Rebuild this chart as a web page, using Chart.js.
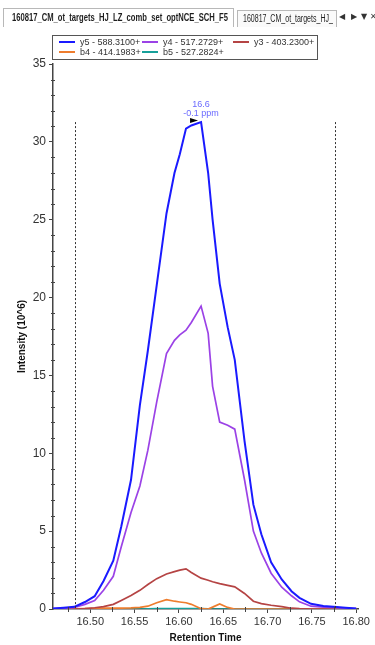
<!DOCTYPE html>
<html lang="en">
<head>
  <meta charset="UTF-8" />
  <meta name="viewport" content="width=device-width, initial-scale=1.0"/>
  <title>Chromatogram - 160817_CM_ot_targets</title>
  <script src="https://cdn.jsdelivr.net/npm/chart.js"></script>
  <style>
    body {
      margin: 0;
      background: #fff;
      font-family: 'Liberation Sans', Arial, sans-serif;
    }
    #wrap {
      position: relative;
      width: 375px;
      height: 645px;
      overflow: hidden;
    }
    #chart { position: absolute; left: 0; top: 0; }
    .tab {
      position: absolute;
      border: 1px solid #b8b8b8;
      border-bottom: none;
      overflow: hidden;
      white-space: nowrap;
      color: #1e1e1e;
    }
    .tab span { display: inline-block; transform-origin: left center; }
    #tab1 { left: 3px; top: 8px; width: 229px; height: 18px; line-height: 18px; font-size: 10px; font-weight: bold; }
    #tab1 span { margin-left: 8px; }
    #tab2 { left: 237px; top: 10px; width: 98px; height: 16px; line-height: 16px; font-size: 10px; background: #fafafa; }
    #tab2 span { margin-left: 5px; }
    .nav { position: absolute; top: 11px; font-size: 8px; line-height: 12px; color: #333; font-family: 'DejaVu Sans', sans-serif; }
    #legend {
      position: absolute;
      left: 52px;
      top: 35px;
      width: 264px;
      height: 23px;
      border: 1px solid #555;
      background: #fff;
      font-size: 9px;
      color: #333;
    }
    .item { position: absolute; height: 10px; line-height: 10px; white-space: nowrap; }
    .item i { display: inline-block; width: 16px; height: 2px; vertical-align: middle; margin-right: 5px; position: relative; top: -1px; }
  </style>
</head>
<body>
  <div id="wrap">
    <canvas id="chart" width="375" height="645"></canvas>
    <div class="tab" id="tab1"><span data-w="216">160817_CM_ot_targets_HJ_LZ_comb_set_optNCE_SCH_F5</span></div>
    <div class="tab" id="tab2"><span data-w="90">160817_CM_ot_targets_HJ_</span></div>
    <div class="nav" style="left:339px">&#9664;</div>
    <div class="nav" style="left:351px">&#9654;</div>
    <div class="nav" style="left:361px">&#9660;</div>
    <div class="nav" style="left:370px">&#10005;</div>
    <div id="legend"></div>
  </div>

  <script>
    // retention times (min) of the sampled points
    const times = [16.458, 16.470, 16.482, 16.494, 16.505, 16.515, 16.526, 16.535, 16.546, 16.556,
                   16.565, 16.575, 16.586, 16.595, 16.601, 16.608, 16.614, 16.625, 16.633, 16.638,
                   16.646, 16.655, 16.663, 16.674, 16.684, 16.693, 16.704, 16.716, 16.727, 16.736,
                   16.749, 16.763, 16.778, 16.788, 16.800];

    // intensities (10^6)
    const y5 = [0.03, 0.08, 0.14, 0.45, 0.82, 1.8, 3.1, 5.3, 8.3, 13.1,
                16.6, 20.8, 25.4, 28.0, 29.2, 30.85, 31.05, 31.27, 28.0, 25.0,
                20.9, 18.1, 16.0, 10.8, 6.7, 4.8, 3.0, 1.9, 1.14, 0.72,
                0.33, 0.2, 0.13, 0.08, 0.03];
    const y4 = [0.02, 0.05, 0.1, 0.3, 0.55, 1.2, 2.1, 4.0, 6.2, 7.9,
                10.2, 13.3, 16.4, 17.25, 17.6, 17.9, 18.4, 19.45, 17.7, 14.3,
                12.0, 11.8, 11.55, 8.3, 5.0, 3.6, 2.3, 1.4, 0.85, 0.46,
                0.18, 0.12, 0.08, 0.05, 0.03];
    const y3 = [0, 0, 0, 0.02, 0.08, 0.15, 0.3, 0.55, 0.87, 1.2,
                1.57, 1.95, 2.25, 2.4, 2.5, 2.58, 2.35, 1.98, 1.85, 1.75,
                1.63, 1.52, 1.42, 1.0, 0.5, 0.35, 0.24, 0.15, 0.05, 0.02,
                0, 0, 0, 0, 0];
    const b4 = [0, 0, 0.01, 0.02, 0.04, 0.05, 0.05, 0.06, 0.07, 0.1,
                0.18, 0.4, 0.6, 0.5, 0.45, 0.4, 0.3, 0.02, 0, 0.12,
                0.33, 0.1, 0, 0, 0, 0, 0, 0, 0, 0,
                0, 0, 0, 0, 0];
    const b5 = [0, 0, 0, 0, 0, 0, 0, 0, 0, 0,
                0.01, 0.02, 0.03, 0.03, 0.03, 0.03, 0.03, 0.02, 0.01, 0,
                0, 0, 0, 0, 0, 0, 0, 0, 0, 0,
                0, 0, 0, 0, 0];

    const seriesNames = ['y5 - 588.3100+', 'y4 - 517.2729+', 'y3 - 403.2300+', 'b4 - 414.1983+', 'b5 - 527.2824+'];
    const seriesColors = ['#1a1aff', '#9b42e6', '#b54444', '#ee7d2e', '#17a09a'];
    const seriesValues = [y5, y4, y3, b4, b5];

    const xTickLabels = ['16.50', '16.55', '16.60', '16.65', '16.70', '16.75', '16.80'];
    const yTickLabels = ['0', '5', '10', '15', '20', '25', '30', '35'];

    // integration boundaries and peak label
    const peakStart = 16.4833;
    const peakEnd = 16.7763;
    const peakText = ['16.6', '-0.1 ppm'];

    // legend (3 columns, 2 rows)
    const legendCols = [6, 89, 180];
    const legend = document.getElementById('legend');
    seriesNames.forEach((name, i) => {
      const d = document.createElement('div');
      d.className = 'item';
      d.style.left = legendCols[i % 3] + 'px';
      d.style.top = (1 + Math.floor(i / 3) * 10) + 'px';
      d.innerHTML = '<i style="background:' + seriesColors[i] + '"></i>' + name;
      legend.appendChild(d);
    });

    // squeeze tab captions to the narrow UI font width
    document.querySelectorAll('.tab span').forEach(s => {
      const w = +s.dataset.w;
      s.style.transform = 'scaleX(' + (w / s.offsetWidth) + ')';
    });

    const xTickVals = [];
    for (let k = 16475; k <= 16800; k += 25) xTickVals.push(k / 1000);
    const yTickVals = [];
    for (let k = 0; k <= 35; k++) yTickVals.push(k);

    const isMajorX = v => xTickLabels.some(l => Math.abs(parseFloat(l) - v) < 1e-6);
    const isMajorY = v => yTickLabels.includes(String(v));

    const apexIdx = y5.indexOf(Math.max(...y5));

    const extras = {
      id: 'extras',
      afterDatasetsDraw(chart) {
        const { ctx, scales: { x, y } } = chart;
        const top = y.getPixelForValue(y5[apexIdx]);
        ctx.save();
        // boundary lines
        ctx.setLineDash([2, 2]);
        ctx.strokeStyle = '#333';
        ctx.lineWidth = 1;
        [peakStart, peakEnd].forEach(t => {
          const px = Math.round(x.getPixelForValue(t)) + 0.5;
          ctx.beginPath();
          ctx.moveTo(px, top);
          ctx.lineTo(px, y.bottom);
          ctx.stroke();
        });
        ctx.setLineDash([]);
        // apex marker and label
        const ax = x.getPixelForValue(times[apexIdx]);
        ctx.fillStyle = '#000';
        ctx.beginPath();
        ctx.moveTo(ax - 11, top - 4);
        ctx.lineTo(ax - 11, top + 1);
        ctx.lineTo(ax - 3, top - 1.5);
        ctx.closePath();
        ctx.fill();
        ctx.fillStyle = '#6a6aff';
        ctx.font = '9px "Liberation Sans", Arial, sans-serif';
        ctx.textAlign = 'center';
        ctx.textBaseline = 'middle';
        ctx.fillText(peakText[0], ax, top - 18);
        ctx.fillText(peakText[1], ax, top - 8.5);
        ctx.restore();
      },
      afterDraw(chart) {
        const { ctx, scales: { x, y } } = chart;
        ctx.save();
        ctx.strokeStyle = '#444';
        ctx.lineWidth = 1;
        // minor ticks crossing the axes
        yTickVals.filter(v => !isMajorY(v)).forEach(v => {
          const py = Math.round(y.getPixelForValue(v)) + 0.5;
          ctx.beginPath();
          ctx.moveTo(x.left - 2, py);
          ctx.lineTo(x.left + 2, py);
          ctx.stroke();
        });
        xTickVals.filter(v => !isMajorX(v)).forEach(v => {
          const px = Math.round(x.getPixelForValue(v)) + 0.5;
          ctx.beginPath();
          ctx.moveTo(px, y.bottom - 2);
          ctx.lineTo(px, y.bottom + 3);
          ctx.stroke();
        });
        ctx.restore();
      }
    };

    const font = { family: "'Liberation Sans', Arial, sans-serif", size: 11 };

    new Chart(document.getElementById('chart'), {
      type: 'line',
      data: {
        datasets: seriesValues.map((vals, i) => ({
          label: seriesNames[i],
          data: vals.map((v, j) => ({ x: times[j], y: v })),
          borderColor: seriesColors[i],
          borderWidth: i === 0 ? 2 : 1.7,
          pointRadius: 0,
          tension: 0,
          fill: false
        }))
      },
      options: {
        responsive: false,
        animation: false,
        layout: { padding: { top: 64, right: 17, bottom: 0, left: 16 } },
        plugins: {
          legend: { display: false },
          tooltip: { enabled: false }
        },
        scales: {
          x: {
            type: 'linear',
            min: 16.458,
            max: 16.802,
            afterBuildTicks: s => { s.ticks = xTickVals.map(v => ({ value: v })); },
            afterFit: s => { s.height = 36; },
            ticks: {
              autoSkip: false,
              maxRotation: 0,
              padding: 2,
              color: '#333',
              font: font,
              callback: v => xTickLabels.find(l => Math.abs(parseFloat(l) - v) < 1e-6) || ''
            },
            grid: {
              drawOnChartArea: false,
              tickLength: 4,
              tickColor: c => isMajorX(c.tick.value) ? '#444' : 'rgba(0,0,0,0)'
            },
            border: { color: '#444', width: 1.5 },
            title: {
              display: true,
              text: 'Retention Time',
              color: '#111',
              font: { family: font.family, size: 10, weight: 'bold' },
              padding: { top: 0, bottom: 1 }
            }
          },
          y: {
            min: 0,
            max: 35,
            afterBuildTicks: s => { s.ticks = yTickVals.map(v => ({ value: v })); },
            afterFit: s => { s.width = 37; },
            ticks: {
              autoSkip: false,
              padding: 3,
              color: '#333',
              font: { family: font.family, size: 12 },
              callback: v => isMajorY(v) ? String(v) : ''
            },
            grid: {
              drawOnChartArea: false,
              tickLength: 4,
              tickColor: c => isMajorY(c.tick.value) ? '#444' : 'rgba(0,0,0,0)'
            },
            border: { color: '#444', width: 1.5 },
            title: {
              display: true,
              text: 'Intensity (10^6)',
              color: '#111',
              font: { family: font.family, size: 10, weight: 'bold' },
              padding: { top: 0, bottom: 0 }
            }
          }
        }
      },
      plugins: [extras]
    });
  </script>
</body>
</html>
